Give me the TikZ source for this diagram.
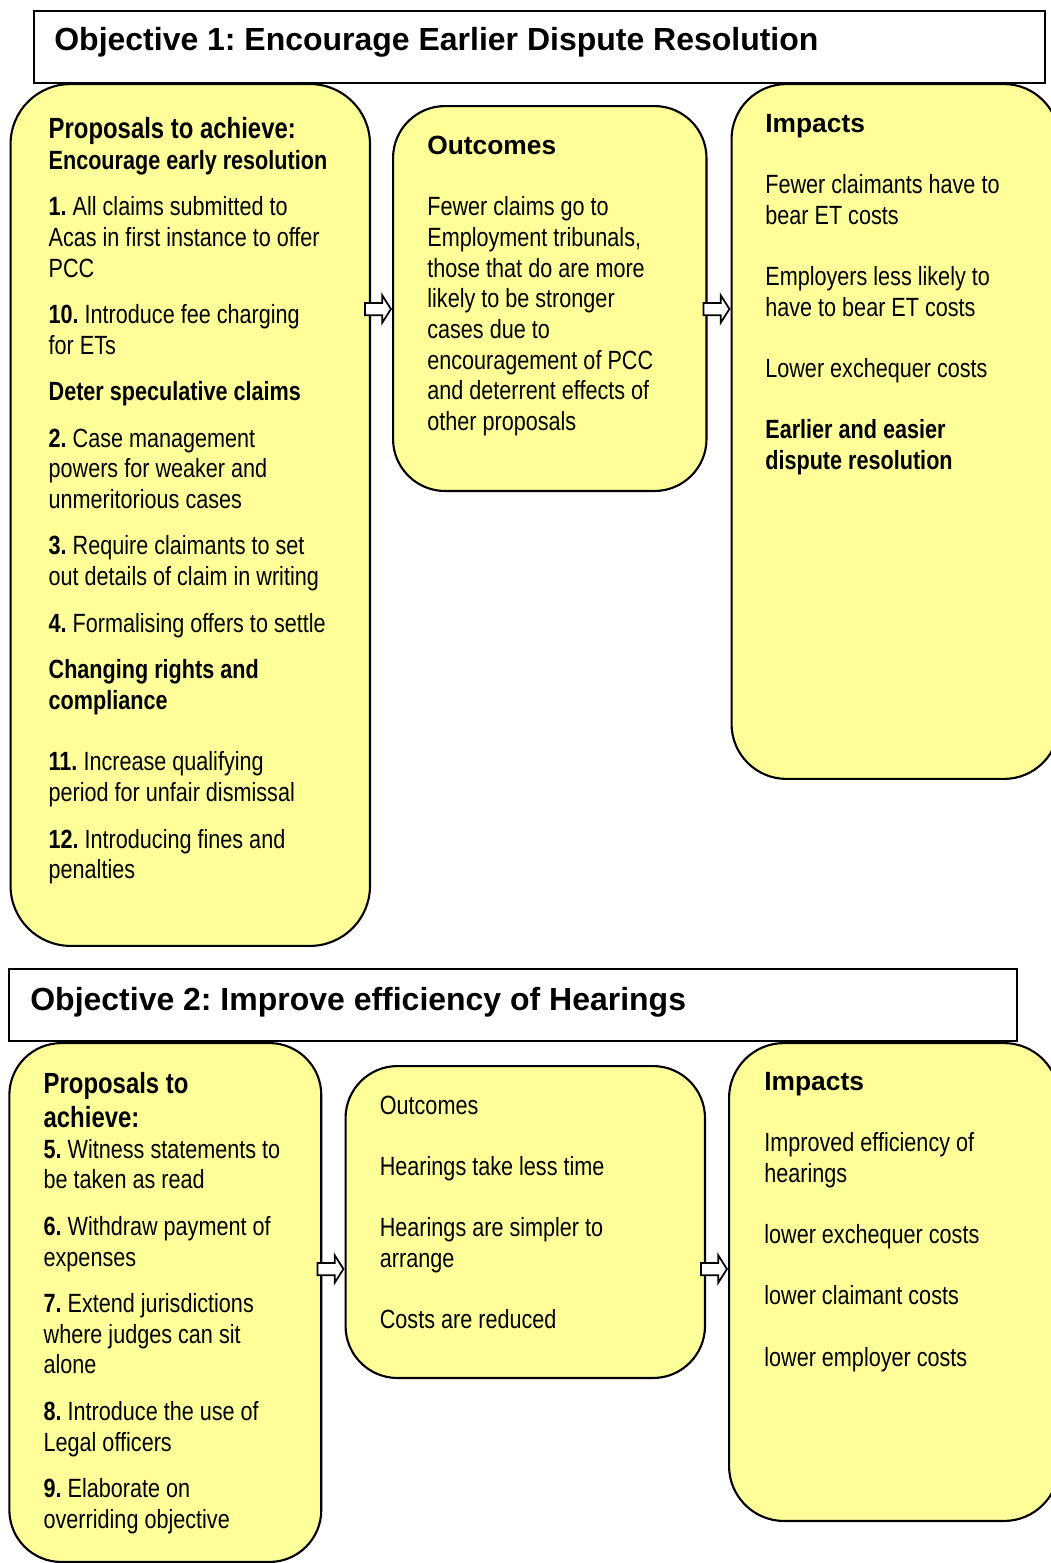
\documentclass[tikz,border=0pt]{standalone}
\usepackage{fontspec}
\setmainfont{Liberation Sans}
\newfontfamily\narrowfont[FakeStretch=0.82]{Liberation Sans}
\usepackage{tikz}
\usetikzlibrary{shapes.arrows}
\definecolor{boxyellow}{HTML}{FFFF99}
\frenchspacing
\def\bodyfont{\narrowfont\fontsize{15}{17.45}\selectfont}
\def\hstrut{\rule{0pt}{13pt}}
\def\wide#1{{\rmfamily\bfseries\fontsize{15}{17.45}\selectfont #1}}
\def\bighead#1{{\bfseries\fontsize{16.6}{17.45}\selectfont #1}}
\tikzset{
	panel/.style={draw, line width=1.2pt, fill=boxyellow, anchor=north west, inner sep=0pt},
	headbox/.style={draw, line width=1pt, fill=white, anchor=north west, inner sep=0pt},
	headtext/.style={anchor=base west, inner sep=0pt, font=\bfseries\fontsize{18.2}{21}\selectfont},
	boxtext/.style={anchor=north west, inner sep=0pt, align=left, font=\bodyfont},
	blockarrow/.style={single arrow, draw, fill=white, line width=1pt, anchor=tip, inner xsep=0pt, inner ysep=0.105cm, minimum height=0.52cm, single arrow head extend=0.15cm, single arrow tip angle=115}
}

\begin{document}
\begin{tikzpicture}[x=0.02cm, y=-0.02cm]
			%%%%% START %%%%%
			\useasboundingbox (0,0) rectangle (1051,1563);
			
			% objective 1
			\node[headbox, minimum width=20.22cm, minimum height=1.44cm] (head1) at (33,10) {};
			\node[headtext] (title1) at (54,50.7) {Objective 1: Encourage Earlier Dispute Resolution};
			
			\node[panel, minimum width=7.19cm, minimum height=17.24cm, rounded corners=1.2cm] (prop1) at (9.5,83) {};
			\node[panel, minimum width=6.27cm, minimum height=7.7cm, rounded corners=1.04cm] (out1) at (392,105) {};
			\node[panel, minimum width=6.55cm, minimum height=13.9cm, rounded corners=1.1cm] (imp1) at (730.5,83) {};
			
			\node[boxtext] (prop1txt) at (48.3,115.45) {\hstrut\bighead{Proposals to achieve:}\\
				\textbf{Encourage early resolution}\\[9pt]
				\textbf{1.} All claims submitted to\\
				Acas in first instance to offer\\
				PCC\\[9pt]
				\textbf{10.} Introduce fee charging\\
				for ETs\\[9pt]
				\textbf{Deter speculative claims}\\[9pt]
				\textbf{2.} Case management\\
				powers for weaker and\\
				unmeritorious cases\\[9pt]
				\textbf{3.} Require claimants to set\\
				out details of claim in writing\\[9pt]
				\textbf{4.} Formalising offers to settle\\[9pt]
				\textbf{Changing rights and}\\
				\textbf{compliance}\\[17.7pt]
				\textbf{11.} Increase qualifying\\
				period for unfair dismissal\\[9pt]
				\textbf{12.} Introducing fines and\\
				penalties};
			
			\node[boxtext] (out1txt) at (427,131.45) {\hstrut\wide{Outcomes}\\[17.45pt]
				Fewer claims go to\\
				Employment tribunals,\\
				those that do are more\\
				likely to be stronger\\
				cases due to\\
				encouragement of PCC\\
				and deterrent effects of\\
				other proposals};
			
			\node[boxtext] (imp1txt) at (765,108.85) {\hstrut\wide{Impacts}\\[17.45pt]
				Fewer claimants have to\\
				bear ET costs\\[17.45pt]
				Employers less likely to\\
				have to bear ET costs\\[17.45pt]
				Lower exchequer costs\\[17.45pt]
				\textbf{Earlier and easier}\\
				\textbf{dispute resolution}};
			
			\node[blockarrow] (arr1) at (out1.west |- 0,309) {};
			\node[blockarrow] (arr2) at (imp1.west |- 0,309) {};
			
			% objective 2
			\node[headbox, minimum width=20.16cm, minimum height=1.44cm] (head2) at (8,968) {};
			\node[headtext] (title2) at (30,1010) {Objective 2: Improve efficiency of Hearings};
			
			\node[panel, minimum width=6.24cm, minimum height=10.38cm, rounded corners=1.04cm] (prop2) at (8.3,1042) {};
			\node[panel, minimum width=7.19cm, minimum height=6.24cm, rounded corners=1.04cm] (out2) at (344.5,1065) {};
			\node[panel, minimum width=6.6cm, minimum height=9.56cm, rounded corners=1.1cm] (imp2) at (728,1042) {};
			
			\node[boxtext] (prop2txt) at (43.3,1070.45) {\hstrut\bighead{Proposals to}\\[1.9pt]
				\bighead{achieve:}\\
				\textbf{5.} Witness statements to\\
				be taken as read\\[9pt]
				\textbf{6.} Withdraw payment of\\
				expenses\\[9pt]
				\textbf{7.} Extend jurisdictions\\
				where judges can sit\\
				alone\\[9pt]
				\textbf{8.} Introduce the use of\\
				Legal officers\\[9pt]
				\textbf{9.} Elaborate on\\
				overriding objective};
			
			\node[boxtext] (out2txt) at (379.5,1091.15) {\hstrut Outcomes\\[17.45pt]
				Hearings take less time\\[17.45pt]
				Hearings are simpler to\\
				arrange\\[17.45pt]
				Costs are reduced};
			
			\node[boxtext] (imp2txt) at (764,1067.15) {\hstrut\wide{Impacts}\\[17.45pt]
				Improved efficiency of\\
				hearings\\[17.45pt]
				lower exchequer costs\\[17.45pt]
				lower claimant costs\\[17.45pt]
				lower employer costs};
			
			\node[blockarrow] (arr3) at (out2.west |- 0,1269) {};
			\node[blockarrow] (arr4) at (imp2.west |- 0,1269) {};
			
			%%%%% END %%%%%
\end{tikzpicture}
\end{document}
